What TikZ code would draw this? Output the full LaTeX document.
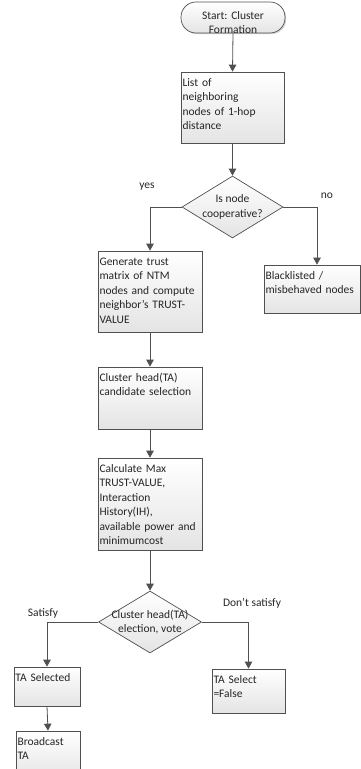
\documentclass[tikz,border=0pt]{standalone}
\usepackage{fontspec}
\setmainfont{Carlito}
\usetikzlibrary{arrows.meta,shapes.geometric,shadows}
\definecolor{linegray}{RGB}{80,80,80}
\definecolor{boxgray}{RGB}{228,228,228}
\frenchspacing
\hyphenpenalty=10000\relax
\tikzset{>={Triangle[length=7pt,width=7.5pt]}}
\tikzset{
  every node/.style={font=\fontsize{11.5}{14.5}\selectfont, text=black!85},
  flow/.style={draw=linegray, line width=0.8pt, ->},
  % boxes: outer width #1, outer height #2, text starts at the top
  procbox/.style 2 args={draw=linegray, line width=0.7pt,
    top color=white, bottom color=boxgray,
    drop shadow={shadow xshift=1.2pt, shadow yshift=-1.2pt, opacity=0.35},
    align=left, inner xsep=1.5pt, inner ysep=2pt,
    text width={#1-3pt}, text height=12pt, text depth={#2-16pt}},
  terminal/.style={draw=linegray, line width=0.7pt, rounded corners=15pt,
    top color=white, bottom color=boxgray,
    drop shadow={shadow xshift=1.2pt, shadow yshift=-1.2pt, opacity=0.35},
    align=center, inner xsep=2pt, inner ysep=0pt,
    text width=100pt, text height=17pt, text depth=14pt},
  decision/.style 2 args={diamond, draw=linegray, line width=0.7pt,
    top color=white, bottom color=boxgray, inner sep=0pt,
    minimum width=#1, minimum height=#2}
}
\begin{document}
\begin{tikzpicture}[x=1pt, y=-1pt]
  \useasboundingbox (0,0) rectangle (361,769);
  \clip (0,0) rectangle (361,769);

  % main column
  \node[terminal] (start) at (233,17.5) {Start: Cluster\\Formation};
  \node[procbox={103pt}{71pt}] (list) at (232.5,107.5)
       {List of\\neighboring\\nodes of 1-hop\\distance};
  \node[decision={101pt}{62pt}] (coop) at (232.5,207) {};
  \node[align=center] (cooptext) at (coop) {Is node\\cooperative?};

  \node[procbox={104pt}{81pt}] (gen) at (150,291.5)
       {Generate trust\\matrix of NTM\\nodes and compute\\neighbor's TRUST-\\VALUE};
  \node[procbox={96pt}{48pt}] (black) at (312,289)
       {Blacklisted /\\misbehaved nodes};
  \node[procbox={104pt}{62pt}] (chead) at (150,398)
       {Cluster head(TA)\\candidate selection};
  \node[procbox={104pt}{92pt}] (calc) at (150,504)
       {Calculate Max\\TRUST-VALUE,\\Interaction\\History(IH),\\available power and\\minimumcost};
  \node[decision={103pt}{62pt}] (elect) at (150,622) {};
  \node[align=center] (electtext) at (elect) {Cluster head(TA)\\election, vote};

  \node[procbox={66pt}{39pt}] (tasel) at (47,686.5) {TA Selected};
  \node[procbox={73pt}{44pt}] (tafalse) at (248.5,691) {TA Select\\=False};
  \node[procbox={64pt}{50pt}] (bcast) at (48,756) {Broadcast\\TA};

  % branch labels
  \node (yes) at (147,187) {yes};
  \node (no) at (327,196) {no};
  \node (sat) at (43,613) {Satisfy};
  \node (nosat) at (252,603) {Don't satisfy};

  % connectors
  \foreach \a/\b in {start/list, list/coop, gen/chead, chead/calc, calc/elect, tasel/bcast}
    \draw[flow] (\a.south) -- (\b.north);
  \draw[flow] (coop.west) -| (gen.north);
  \draw[flow] (coop.east) -| ([xshift=5pt]black.north);
  \draw[flow] (elect.west) -| (tasel.north);
  \draw[flow] (elect.east) -| (tafalse.north);
\end{tikzpicture}
\end{document}
